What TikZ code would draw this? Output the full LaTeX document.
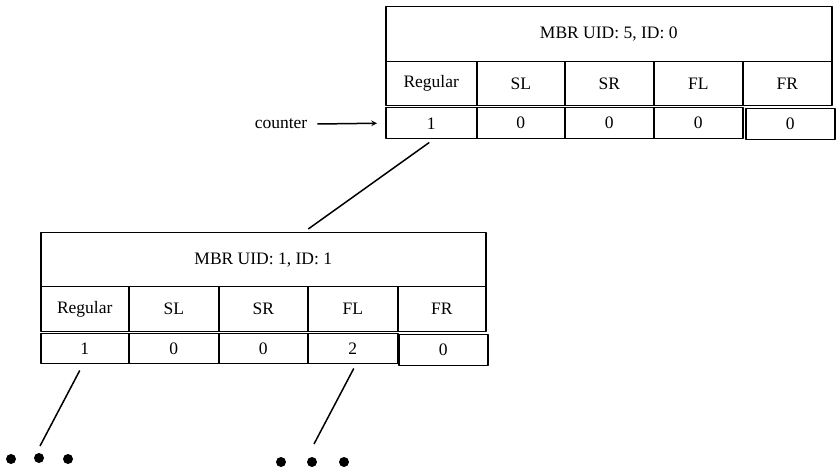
\documentclass[tikz,border=0pt]{standalone}
\usepackage{fontspec}
\setmainfont{Liberation Serif}
\begin{document}
\begin{tikzpicture}[x=1pt,y=-1pt,line join=round,line width=1.5pt,
	font=\fontsize{17.5}{20}\selectfont,>=stealth,
	cell/.style={draw,inner sep=0pt,anchor=north west}]
	\useasboundingbox (0,0) rectangle (839,473);
	% upper record
	\node[cell,minimum width=446pt,minimum height=55pt] (T) at (385,6) {MBR UID: 5, ID: 0};
	\foreach\n/\a/\b/\t in {1/385/476/Regular,2/476/564/SL,3/564/653/SR,4/653/742/FL,5/742/831/FR}
	{\node[cell,minimum width={(\b-\a)*1pt},minimum height=44pt] (TL\n) at (\a,61) {\t};}
	\foreach\n/\a/\b/\t in {1/385/476/1,2/476/564/0,3/564/653/0,4/653/742/0}
	{\node[cell,minimum width={(\b-\a)*1pt},minimum height=31pt] (TV\n) at (\a,107) {\t};}
	\node[cell,minimum width=89pt,minimum height=31pt] (TV5) at (745,108) {0};
	% lower record
	\node[cell,minimum width=445pt,minimum height=54pt] (B) at (40,232) {MBR UID: 1, ID: 1};
	\foreach\n/\a/\b/\t in {1/40/128/Regular,2/128/218/SL,3/218/307/SR,4/307/397/FL,5/397/485/FR}
	{\node[cell,minimum width={(\b-\a)*1pt},minimum height=45pt] (BL\n) at (\a,286) {\t};}
	\foreach\n/\a/\b/\t in {1/40/128/1,2/128/218/0,3/218/307/0,4/307/397/2}
	{\node[cell,minimum width={(\b-\a)*1pt},minimum height=30pt] (BV\n) at (\a,333) {\t};}
	\node[cell,minimum width=89pt,minimum height=31pt] (BV5) at (398,334) {0};
	% counter
	\node (cnt) at (281,124) {counter};
	\draw[->] ([xshift=6pt]cnt.east) -- ([xshift=-8pt]TV1.west);
	% links
	\draw ([shift={(-2,3)}]TV1.south) -- ([shift={(45,-3)}]B.north);
	\path (40,446) coordinate (L1) (314,444) coordinate (L2);
	\draw ([shift={(-5,6)}]BV1.south) -- (L1);
	\draw ([shift={(1,4)}]BV4.south) -- (L2);
	\foreach\x/\y in {11/459,39/458,68/459,281/462,312/462,344/462}
	{\fill (\x,\y) circle (5);}
\end{tikzpicture}
\end{document}
